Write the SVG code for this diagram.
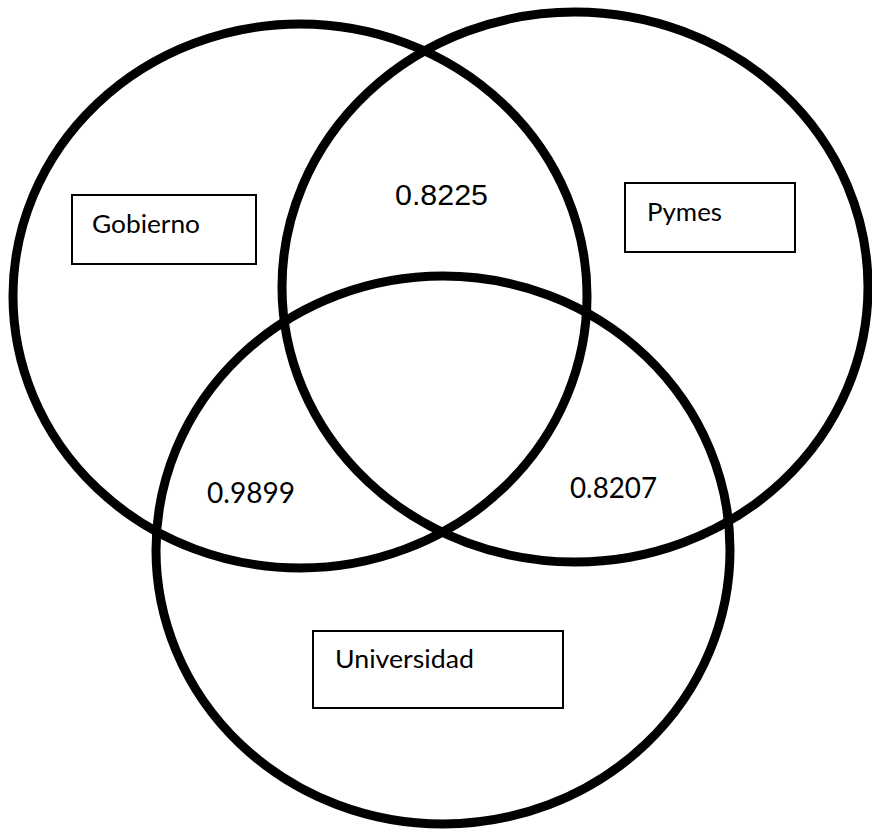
<svg xmlns="http://www.w3.org/2000/svg" width="872" height="831" viewBox="0 0 872 831">
  <style>
    .set { fill: none; stroke: #000; stroke-width: 9; }
    .box { fill: #fff; stroke: #000; stroke-width: 2; }
    .label { font-family: Lato, "Liberation Sans", sans-serif; font-size: 25px; fill: #000; }
    .value { font-family: Lato, "Liberation Sans", sans-serif; font-size: 28px; fill: #000; }
    .value-top { font-family: "Liberation Sans", Arial, sans-serif; font-size: 29px; fill: #000; }
  </style>
  <rect width="872" height="831" fill="#fff"/>

  <!-- Set outlines -->
  <g id="set-gobierno">
    <ellipse class="set" cx="300" cy="296" rx="287" ry="272"/>
  </g>
  <g id="set-pymes">
    <ellipse class="set" cx="575" cy="287" rx="293" ry="275"/>
  </g>
  <g id="set-universidad">
    <ellipse class="set" cx="443" cy="550" rx="287" ry="274"/>
  </g>

  <!-- Set labels -->
  <g id="label-gobierno">
    <rect class="box" x="72" y="195" width="184" height="69"/>
    <text class="label" x="92" y="233" textLength="108" lengthAdjust="spacingAndGlyphs">Gobierno</text>
  </g>
  <g id="label-pymes">
    <rect class="box" x="625" y="183" width="170" height="69"/>
    <text class="label" x="647" y="221" textLength="75" lengthAdjust="spacingAndGlyphs">Pymes</text>
  </g>
  <g id="label-universidad">
    <rect class="box" x="313" y="631" width="250" height="77"/>
    <text class="label" x="335" y="668" textLength="139" lengthAdjust="spacingAndGlyphs">Universidad</text>
  </g>

  <!-- Overlap values -->
  <g id="value-gobierno-pymes">
    <text class="value-top" x="395" y="205" textLength="93" lengthAdjust="spacingAndGlyphs">0.8225</text>
  </g>
  <g id="value-gobierno-universidad">
    <text class="value" x="207" y="503" textLength="88" lengthAdjust="spacingAndGlyphs">0.9899</text>
  </g>
  <g id="value-pymes-universidad">
    <text class="value" x="570" y="498" textLength="87" lengthAdjust="spacingAndGlyphs">0.8207</text>
  </g>

  <g id="connectors"/>
</svg>
